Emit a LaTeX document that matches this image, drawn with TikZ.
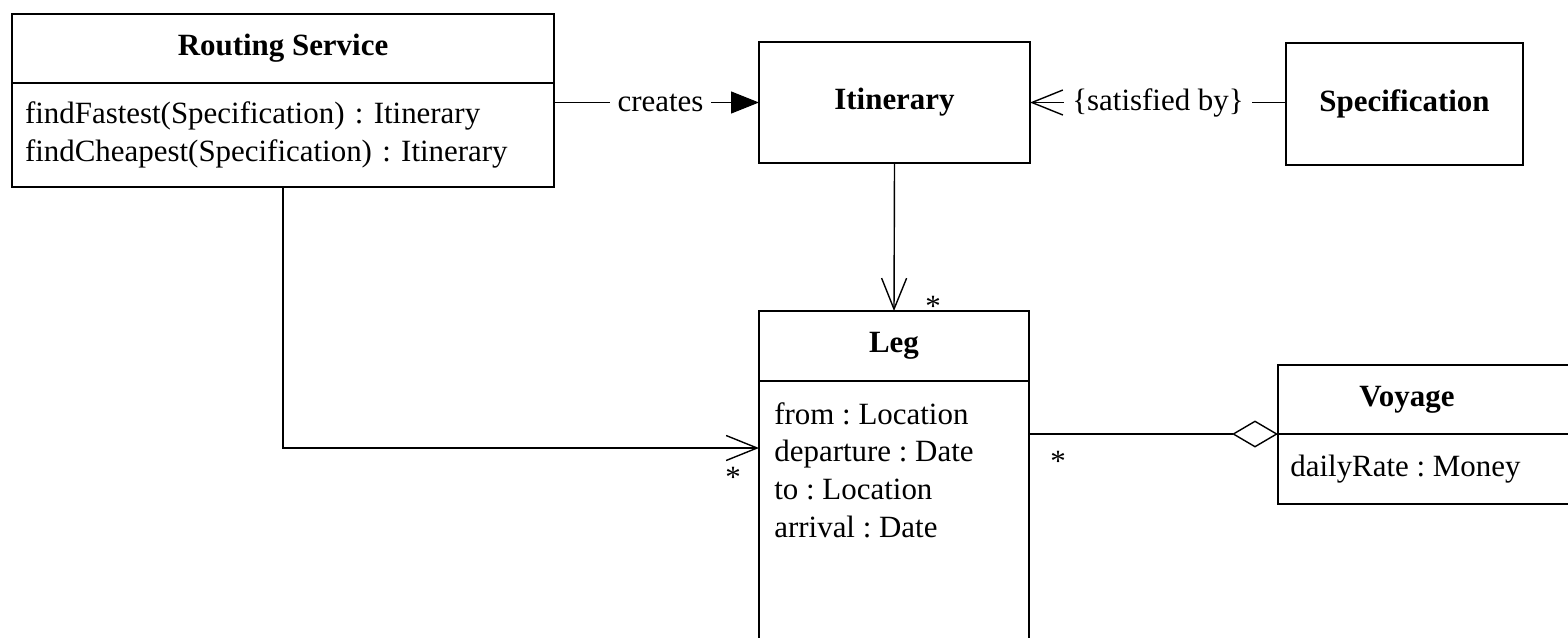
\documentclass[tikz,border=0pt]{standalone}
\usepackage{fontspec}
\setmainfont{Liberation Serif}
\frenchspacing
\usetikzlibrary{positioning, arrows.meta, calc}

\begin{document}
\begin{tikzpicture}[
    x=0.2mm, y=-0.2mm, node distance=0pt,
    every node/.style={font=\fontsize{17.6}{21.5}\selectfont},
    comp/.style={rectangle, draw=black, line width=0.8pt, inner sep=0pt, outer sep=0pt},
    title/.style={comp, font=\fontsize{17.6}{21.5}\selectfont\bfseries},
    attr/.style={align=left, inner sep=0pt},
    mult/.style={inner sep=0pt},
    lbl/.style={fill=white, inner xsep=1.6mm, inner ysep=0.5mm},
    link/.style={line width=0.8pt},
    barb/.style={link, -{Straight Barb[length=6.2mm, width=5mm]}}]
\useasboundingbox (0,0) rectangle (1568,637);
\clip (0,0) rectangle (1568,637);
% classes
\node[title, anchor=north west, minimum width=108.4mm, minimum height=13.8mm] (rstitle) at (12,14) {Routing Service};
\node[comp, below=of rstitle, minimum width=108.4mm, minimum height=20.8mm, text width=103.2mm, align=left] (rsops)
    {findFastest(Specification) : Itinerary\\ findCheapest(Specification) : Itinerary};
\node[title, anchor=north west, minimum width=54.2mm, minimum height=24.2mm] (itin) at (759,42) {Itinerary};
\node[title, anchor=north west, minimum width=47.4mm, minimum height=24.4mm] (spec) at (1286,43) {Specification};
\node[title, anchor=north west, minimum width=54mm, minimum height=14mm] (legtitle) at (759,311) {Leg};
\node[comp, below=of legtitle, minimum width=54mm, minimum height=67.8mm] (legattrs) {};
\node[attr, anchor=north west] (legtext) at (774,402)
    {from : Location\\ departure : Date\\ to : Location\\ arrival : Date};
\node[title, anchor=north west, minimum width=68.4mm, minimum height=13.8mm] (voytitle) at (1278,365) {};
\node[font=\fontsize{17.6}{21.5}\selectfont\bfseries] (voyname) at (1407,400) {Voyage};
\node[comp, below=of voytitle, minimum width=68.4mm, minimum height=14mm] (voyattrs) {};
\node[attr, anchor=west] (voytext) at (1290,469) {dailyRate : Money};
% associations
\draw[link, -{Triangle[length=5.6mm, width=4.4mm]}] (itin.west -| rsops.east) -- node[lbl, xshift=0.8mm] {creates} (itin.west);
\draw[barb] (spec.west |- itin.east) -- node[lbl] {\{satisfied by\}} (itin.east);
\draw[barb] (itin.south) -- (legtitle.north) node[mult, xshift=7.8mm, yshift=1mm] {*};
\draw[barb] (rsops.south) |- ($(legattrs.north west)+(0,67)$) node[mult, xshift=-5.2mm, yshift=-5.8mm] {*};
\draw[link, {Diamond[open, length=9.2mm, width=5.4mm]}-] (voytitle.south west) -- (voytitle.south west -| legattrs.east)
    node[mult, xshift=5.8mm, yshift=-5.4mm] {*};
\end{tikzpicture}
\end{document}
